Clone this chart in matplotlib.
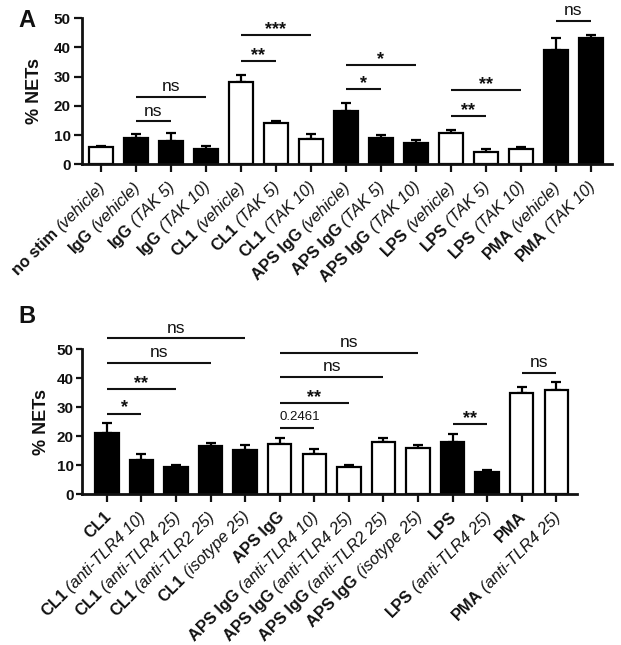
import matplotlib
matplotlib.use('Agg')
import matplotlib.pyplot as plt
import numpy as np
from matplotlib.font_manager import FontProperties

plt.rcParams['font.family'] = ['Liberation Sans', 'DejaVu Sans']

# ---------------- Panel A data ----------------
a_main = ["no stim", "IgG", "IgG", "IgG", "CL1", "CL1", "CL1",
          "APS IgG", "APS IgG", "APS IgG", "LPS", "LPS", "LPS", "PMA", "PMA"]
a_treat = ["(vehicle)", "(vehicle)", "(TAK 5)", "(TAK 10)", "(vehicle)", "(TAK 5)", "(TAK 10)",
           "(vehicle)", "(TAK 5)", "(TAK 10)", "(vehicle)", "(TAK 5)", "(TAK 10)",
           "(vehicle)", "(TAK 10)"]
a_vals = [5.8, 8.9, 8.1, 5.1, 28.2, 14.0, 8.7, 18.3, 9.1, 7.3, 10.7, 4.3, 5.1, 39.1, 43.2]
a_err = [0.6, 1.4, 2.5, 1.1, 2.5, 0.8, 1.6, 2.6, 1.1, 0.9, 1.2, 0.9, 0.7, 4.3, 1.1]
a_fill = ['white', 'black', 'black', 'black', 'white', 'white', 'white',
          'black', 'black', 'black', 'white', 'white', 'white', 'black', 'black']
a_sig_from = [1, 1, 4, 4, 7, 7, 10, 10, 13]
a_sig_to = [2, 3, 5, 6, 8, 9, 11, 12, 14]
a_sig_y = [14.7, 23.2, 35.4, 44.2, 25.7, 34.0, 16.5, 25.3, 49.1]
a_sig_txt = ['ns', 'ns', '**', '***', '*', '*', '**', '**', 'ns']

# ---------------- Panel B data ----------------
b_main = ["CL1", "CL1", "CL1", "CL1", "CL1",
          "APS IgG", "APS IgG", "APS IgG", "APS IgG", "APS IgG",
          "LPS", "LPS", "PMA", "PMA"]
b_treat = ["", "(anti-TLR4 10)", "(anti-TLR4 25)", "(anti-TLR2 25)", "(isotype 25)",
           "", "(anti-TLR4 10)", "(anti-TLR4 25)", "(anti-TLR2 25)", "(isotype 25)",
           "", "(anti-TLR4 25)", "", "(anti-TLR4 25)"]
b_vals = [21.0, 11.7, 9.4, 16.8, 15.3, 17.2, 13.8, 9.4, 17.9, 16.0, 18.0, 7.8, 34.8, 36.0]
b_err = [3.5, 2.1, 0.8, 0.9, 1.7, 2.3, 1.8, 0.8, 1.6, 1.0, 2.9, 0.6, 2.1, 2.8]
b_fill = ['black'] * 5 + ['white'] * 5 + ['black'] * 2 + ['white'] * 2
b_sig_from = [0, 0, 0, 0, 5, 5, 5, 5, 10, 12]
b_sig_to = [1, 2, 3, 4, 6, 7, 8, 9, 11, 13]
b_sig_y = [27.8, 36.3, 45.4, 53.8, 23.0, 31.4, 40.4, 48.7, 24.3, 41.9]
b_sig_txt = ['*', '**', 'ns', 'ns', '0.2461', '**', 'ns', 'ns', '**', 'ns']

FS = 11
LFS = 11.8
TXT = '#111111'

fig = plt.figure(figsize=(6.21, 6.45), dpi=100)
renderer = fig.canvas.get_renderer()


def text_w_pt(s, prop):
    w, h, d = renderer.get_text_width_height_descent(s, prop, ismath=False)
    return w * 72.0 / fig.dpi


def draw(ax, mains, treats, vals, errs, fills, sfrom, sto, sy, stxt, xlim, yticklen):
    x = np.arange(len(vals))
    ax.bar(x, vals, width=0.68, color=fills, edgecolor='black', linewidth=1.6, zorder=2)
    ax.errorbar(x, vals, yerr=[np.zeros(len(vals)), errs], fmt='none', ecolor='black',
                elinewidth=1.6, capsize=3.3, capthick=1.6, zorder=1)
    ax.set_xlim(*xlim)
    ax.set_ylim(0, 50)
    ax.set_yticks(np.arange(0, 51, 10))
    ax.set_xticks(x)
    ax.set_xticklabels([])
    for s in ['top', 'right']:
        ax.spines[s].set_visible(False)
    for s in ['left', 'bottom']:
        ax.spines[s].set_linewidth(2)
        ax.spines[s].set_color('#111111')
    ax.tick_params(axis='x', direction='out', length=6, width=1.6, colors='#111111')
    ax.tick_params(axis='y', direction='out', length=yticklen, width=1.6, colors='#111111',
                   labelsize=FS, pad=2)
    for lab in ax.get_yticklabels():
        lab.set_fontweight('bold')
        lab.set_color(TXT)
    ax.set_ylabel('% NETs', fontsize=13, fontweight='bold', color=TXT)

    # significance lines
    for f, t, y, s in zip(sfrom, sto, sy, stxt):
        ax.plot([f, t], [y, y], color='#111111', lw=1.5, clip_on=False, solid_capstyle='butt')
        xm = (f + t) / 2.0
        if s.startswith('*'):
            ax.annotate(s, xy=(xm, y), xytext=(0, -2), textcoords='offset points',
                        ha='center', va='bottom', fontsize=13, fontweight='bold',
                        color=TXT, annotation_clip=False)
        elif s == 'ns':
            ax.annotate(s, xy=(xm, y), xytext=(0, 2), textcoords='offset points',
                        ha='center', va='bottom', fontsize=12.5, color=TXT, annotation_clip=False)
        else:
            ax.annotate(s, xy=(f, y), xytext=(0, 3), textcoords='offset points',
                        ha='left', va='bottom', fontsize=9.5, color=TXT, annotation_clip=False)

    # two-style rotated labels
    pb = FontProperties(family='Liberation Sans', weight='bold', size=LFS)
    pi = FontProperties(family='Liberation Sans', style='italic', size=LFS)
    sp = text_w_pt('n n', pb) - text_w_pt('nn', pb)
    c = np.cos(np.deg2rad(45))
    base = (1.5, -14.5)
    for i, (m, t) in enumerate(zip(mains, treats)):
        off = 0.0
        if t:
            ax.annotate(t, xy=(i, 0), xycoords=('data', 'axes fraction'), xytext=base,
                        textcoords='offset points', rotation=45, rotation_mode='anchor',
                        ha='right', va='center', fontproperties=pi, color=TXT,
                        annotation_clip=False)
            off = text_w_pt(t, pi) + sp
        ax.annotate(m, xy=(i, 0), xycoords=('data', 'axes fraction'),
                    xytext=(base[0] - off * c, base[1] - off * c),
                    textcoords='offset points', rotation=45, rotation_mode='anchor',
                    ha='right', va='center', fontproperties=pb, color=TXT,
                    annotation_clip=False)


W, H = 621.0, 645.0
axA = fig.add_axes([82 / W, 1 - 164.3 / H, (612 - 82) / W, (164.3 - 18.3) / H])
draw(axA, a_main, a_treat, a_vals, a_err, a_fill, a_sig_from, a_sig_to, a_sig_y, a_sig_txt,
     (-0.54, 14.6), 6)
axA.yaxis.set_label_coords(-0.074, 0.5)

axB = fig.add_axes([82 / W, 1 - 494.3 / H, (577 - 82) / W, (494.3 - 349.3) / H])
draw(axB, b_main, b_treat, b_vals, b_err, b_fill, b_sig_from, b_sig_to, b_sig_y, b_sig_txt,
     (-0.72, 13.6), 4)
axB.yaxis.set_label_coords(-0.065, 0.5)

fig.text(18 / W, 1 - 27 / H, 'A', fontsize=17, fontweight='bold', color=TXT, va='baseline')
fig.text(18 / W, 1 - 323 / H, 'B', fontsize=17, fontweight='bold', color=TXT, va='baseline')

fig.savefig('out.png', dpi=100, facecolor='white')
